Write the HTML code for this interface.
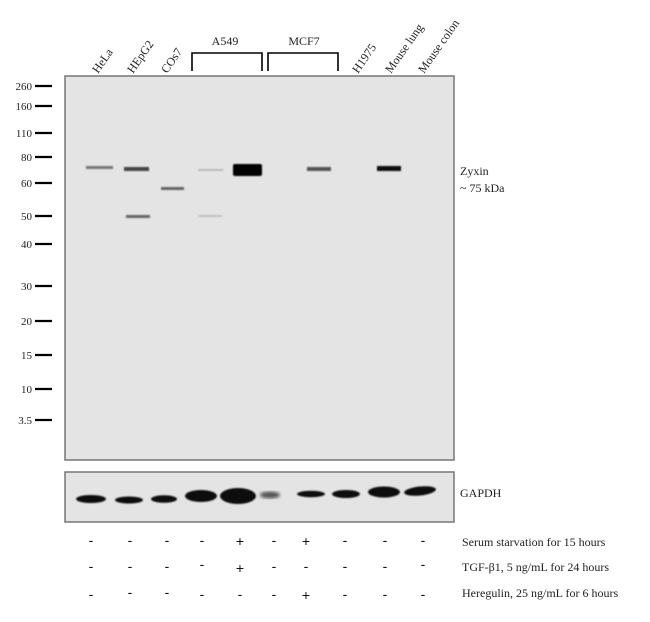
<!DOCTYPE html>
<html><head><style>
body{margin:0;background:#fff;}
svg{display:block;font-family:"Liberation Serif",serif;}
</style></head><body>
<svg width="650" height="622" viewBox="0 0 650 622" xmlns="http://www.w3.org/2000/svg">
<defs>
<filter id="b1"><feGaussianBlur stdDeviation="0.8"/></filter>
<filter id="b2"><feGaussianBlur stdDeviation="1.5"/></filter>
</defs>
<g font-size="12" fill="#222">
<text transform="translate(98,74) rotate(-55)">HeLa</text>
<text transform="translate(133,74) rotate(-55)">HEpG2</text>
<text transform="translate(167,74) rotate(-55)">COs7</text>
<text transform="translate(358,74) rotate(-55)">H1975</text>
<text transform="translate(391,74) rotate(-55)">Mouse lung</text>
<text transform="translate(424,74) rotate(-55)">Mouse colon</text>
<text x="225" y="45" text-anchor="middle">A549</text>
<text x="304" y="45" text-anchor="middle">MCF7</text>
</g>
<path d="M192,71 V53 H262 V71 M268,71 V53 H338 V71" fill="none" stroke="#000" stroke-width="1.6"/>
<rect x="65" y="76" width="389" height="384" fill="#e4e4e4" stroke="#777" stroke-width="1.5"/>
<g filter="url(#b1)">
<rect x="86" y="166" width="27" height="3" fill="#777"/>
<rect x="124" y="167" width="25" height="4" fill="#444"/>
<rect x="161" y="187" width="23" height="3" fill="#666"/>
<rect x="198" y="169" width="25" height="2" fill="#bbb"/>
<rect x="233" y="164" width="29" height="12" rx="2" fill="#000"/>
<rect x="307" y="167" width="24" height="4" fill="#555"/>
<rect x="377" y="166" width="24" height="5" fill="#111"/>
<rect x="126" y="215" width="24" height="3" fill="#666"/>
<rect x="198" y="215" width="24" height="2" fill="#c0c0c0"/>
</g>
<g font-size="11" fill="#222" text-anchor="end">
<text x="32" y="90">260</text><text x="32" y="110">160</text><text x="32" y="137">110</text>
<text x="32" y="161">80</text><text x="32" y="187">60</text><text x="32" y="220">50</text>
<text x="32" y="248">40</text><text x="32" y="290">30</text><text x="32" y="325">20</text>
<text x="32" y="359">15</text><text x="32" y="393">10</text><text x="32" y="424">3.5</text>
</g>
<g stroke="#000" stroke-width="2.2">
<line x1="35" x2="52" y1="86" y2="86"/><line x1="35" x2="52" y1="106" y2="106"/>
<line x1="35" x2="52" y1="133" y2="133"/><line x1="35" x2="52" y1="157" y2="157"/>
<line x1="35" x2="52" y1="183" y2="183"/><line x1="35" x2="52" y1="216" y2="216"/>
<line x1="35" x2="52" y1="244" y2="244"/><line x1="35" x2="52" y1="286" y2="286"/>
<line x1="35" x2="52" y1="321" y2="321"/><line x1="35" x2="52" y1="355" y2="355"/>
<line x1="35" x2="52" y1="389" y2="389"/><line x1="35" x2="52" y1="420" y2="420"/>
</g>
<g font-size="12" fill="#222">
<text x="460" y="175">Zyxin</text>
<text x="460" y="192">~ 75  kDa</text>
<text x="460" y="497">GAPDH</text>
</g>
<rect x="65" y="472" width="389" height="50" fill="#e4e4e4" stroke="#777" stroke-width="1.5"/>
<g filter="url(#b1)" fill="#111">
<ellipse cx="91" cy="499" rx="15" ry="4"/>
<ellipse cx="129" cy="500" rx="14" ry="3.5"/>
<ellipse cx="164" cy="499" rx="13" ry="3.8"/>
<ellipse cx="201" cy="496" rx="16" ry="6"/>
<ellipse cx="238" cy="496" rx="18" ry="8"/>
<ellipse cx="311" cy="494" rx="14" ry="3.2"/>
<ellipse cx="346" cy="494" rx="14" ry="4"/>
<ellipse cx="384" cy="492" rx="16" ry="5.5"/>
<ellipse cx="420" cy="491" rx="16" ry="4.5" transform="rotate(-6 420 491)"/>
</g>
<ellipse cx="270" cy="495" rx="10" ry="3.5" fill="#555" filter="url(#b2)"/>
<g font-size="14" fill="#111" text-anchor="middle" font-family="Liberation Sans,sans-serif">
<text x="91" y="545">-</text><text x="130" y="545">-</text><text x="167" y="545">-</text><text x="202" y="545">-</text><text x="240" y="546">+</text><text x="274" y="545">-</text><text x="306" y="546">+</text><text x="345" y="545">-</text><text x="385" y="545">-</text><text x="423" y="545">-</text>
<text x="91" y="571">-</text><text x="130" y="571">-</text><text x="167" y="571">-</text><text x="202" y="569">-</text><text x="240" y="573">+</text><text x="274" y="571">-</text><text x="306" y="571">-</text><text x="345" y="571">-</text><text x="385" y="571">-</text><text x="423" y="569">-</text>
<text x="91" y="599">-</text><text x="130" y="597">-</text><text x="167" y="597">-</text><text x="202" y="599">-</text><text x="240" y="599">-</text><text x="274" y="599">-</text><text x="306" y="600">+</text><text x="345" y="599">-</text><text x="385" y="599">-</text><text x="423" y="599">-</text>
</g>
<g font-size="12" fill="#222">
<text x="462" y="546">Serum starvation for 15 hours</text>
<text x="462" y="571">TGF-β1, 5 ng/mL  for 24 hours</text>
<text x="462" y="597">Heregulin,  25 ng/mL for 6 hours</text>
</g>
</svg>
</body></html>
